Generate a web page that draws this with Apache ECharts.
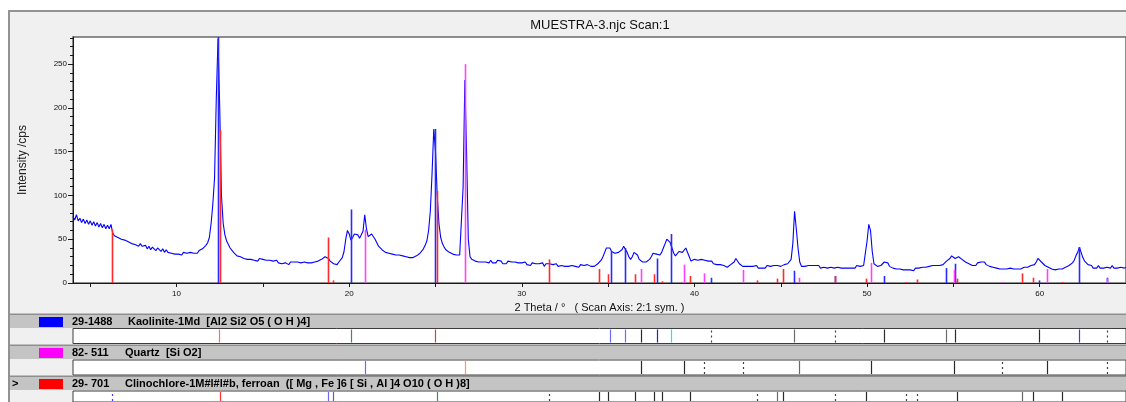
<!DOCTYPE html>
<html>
<head>
<meta charset="utf-8">
<script src="https://cdn.jsdelivr.net/npm/echarts@6/dist/echarts.min.js"></script>
<style>
html,body{margin:0;padding:0;background:#fff;}
#chart{width:1126px;height:402px;}
</style>
</head>
<body>
<div id="chart"></div>
<script>
// ---------- DATA ----------
const chartTitle = 'MUESTRA-3.njc Scan:1';
const xAxisTitle = '2 Theta / \u00b0   ( Scan Axis: 2:1 sym. )';
const yAxisTitle = 'Intensity /cps';

// measured intensity, 2-theta from 4.0 in 0.1 degree steps
const twoThetaStart = 4.0;
const twoThetaStep = 0.1;
const intensity = [
 76,72,78,71,74,69,73,68,72,67,
 71,66,70,65,69,64,68,63,67,62,
 66,62,67,57,54,56,52,54,50,52,
 49,51,47,49,45,47,44,46,42,45,
 42,40,43,39,42,38,41,40,37,40,
 38,36,39,35,38,35,36,34,36,33,
 35,33,34,32,35,33,34,32,35,33,
 34,36,34,37,36,39,40,43,46,52,
 68,90,120,210,279,200,100,68,55,48,
 44,40,38,35,35,31,32,30,31,28,
 30,27,29,27,28,26,28,25,28,26,
 27,25,26,24,26,24,25,23,26,23,
 25,22,24,23,24,21,24,22,24,22,
 24,22,23,21,24,22,23,21,23,22,
 24,22,25,24,27,26,30,31,28,25,
 25,22,24,21,24,25,29,36,50,60,
 56,49,52,56,58,55,51,50,59,78,
 62,53,54,56,55,50,46,42,40,38,
 38,35,37,34,36,33,35,32,34,32,
 34,31,33,30,32,29,31,29,31,31,
 32,34,36,39,43,48,60,82,125,176,
 150,100,68,52,45,41,38,36,35,34,
 33,32,32,31,32,34,110,232,150,50,
 30,27,28,25,26,24,26,24,26,24,
 25,23,26,23,25,23,26,24,25,22,
 24,22,25,23,24,22,24,22,23,21,
 23,21,24,21,23,20,23,21,22,20,
 22,20,23,19,22,20,22,20,21,19,
 22,19,21,20,21,19,21,19,21,20,
 21,19,21,18,21,19,20,18,21,19,
 19,20,19,21,22,24,26,30,35,40,
 42,40,36,34,34,34,35,35,38,42,
 40,35,30,27,30,35,37,32,27,25,
 24,24,24,25,27,30,34,36,33,31,
 32,35,40,45,50,49,46,40,34,31,
 33,36,36,35,37,40,38,30,25,25,
 27,25,26,24,27,25,26,24,25,23,
 25,22,24,21,23,21,22,20,21,18,
 20,21,21,24,28,26,22,20,19,18,
 19,17,19,17,19,17,20,17,19,17,
 19,17,20,18,19,17,20,18,20,19,
 19,20,21,20,22,24,27,45,82,62,
 40,24,19,21,19,18,20,18,20,18,
 20,18,20,17,19,18,20,17,19,18,
 19,17,19,18,19,17,19,17,19,17,
 19,17,19,17,20,18,19,18,20,22,
 48,67,60,36,22,20,19,19,20,21,
 24,22,23,19,20,17,19,16,18,16,
 18,15,17,15,17,15,16,14,17,15,
 17,15,18,16,18,17,19,17,20,19,
 20,21,20,22,21,23,25,26,28,31,
 29,28,30,30,29,27,26,24,23,22,
 23,20,22,20,23,22,24,23,24,21,
 22,19,21,18,19,17,18,16,18,16,
 18,16,18,17,18,16,18,16,18,16,
 18,18,19,18,19,20,20,21,24,28,
 26,24,22,20,19,18,17,16,16,15,
 15,16,15,16,17,18,19,20,21,23,
 26,31,35,41,35,29,25,23,21,20,
 20,17,19,17,20,17,19,17,19,18,
 19,17,20,17,19,17,19,18,19,17,
 18
];

// reference patterns (stick positions in 2-theta, heights in cps)
const kaoliniteCode = '29-1488';
const kaoliniteName = 'Kaolinite-1Md  [Al2 Si2 O5 ( O H )4]';
const kaolinitePos = [12.42,20.11,24.98,35.14,36.0,37.83,38.64,40.97,45.75,48.12,50.99,54.57,55.08,59.98,62.3,63.88];
const kaoliniteInt = [281,84,176,36,40,28,56,6,14,8,8,17,22,3,41,6];

const quartzCode = '82- 511';
const quartzName = 'Quartz  [Si O2]';
const quartzPos = [20.94,26.71,36.91,39.37,40.56,42.83,46.08,50.24,55.03,57.84,60.43,63.9];
const quartzInt = [61,250,16,21,11,15,6,23,15,1,16,5];

const chloriteCode = '29- 701';
const chloriteName = 'Clinochlore-1M#l#l#b, ferroan  ([ Mg , Fe ]6 [ Si , Al ]4 O10 ( O H )8]';
const chloritePos = [6.27,12.52,18.79,19.08,25.08,31.58,34.47,34.99,36.58,37.64,38.12,39.75,43.64,44.8,45.12,48.16,49.95,52.26,52.91,55.2,58.96,59.63,61.28];
const chloriteInt = [61,175,52,3,105,27,16,10,10,10,2,8,3,5,16,8,5,1,4,5,11,6,1];

// marker strips under the plot
const kaoliniteStripPos = [12.44,20.11,24.98,35.12,36.0,36.91,37.83,38.64,40.95,45.75,48.12,50.99,54.57,55.08,59.98,62.3,63.88];
const quartzStripPos = [20.94,26.71,36.91,39.37,40.56,42.83,46.08,50.24,55.03,57.84,60.43,63.9];
const chloriteStripPos = [6.27,12.52,18.79,19.08,25.08,31.58,34.47,34.99,36.58,37.64,38.12,39.75,43.64,44.8,45.12,48.16,49.95,52.26,52.91,55.2,58.96,59.63,61.28];

// tick values
const xLabelValues = [10,20,30,40,50,60];
const xTickValues = [5,10,15,20,25,30,35,40,45,50,55,60,65];
const yLabelValues = [0,50,100,150,200,250];
const yMinorValues = [10,20,30,40,60,70,80,90,110,120,130,140,160,170,180,190,210,220,230,240,260,270,280];

// ---------- STYLES ----------
const stripPalette = {
  red:['#ff3030',false], lred:['#ff6a6a',false], green:['#2aa02a',false], lblue:['#6a6aff',false],
  black:['#2a2a2a',false], gray:['#6a6a6a',false], dblue:['#2020c8',false], cyan:['#30dede',false],
  blue:['#3a3aff',false], orange:['#ff9a50',false], dash:['#404040',true], dashblue:['#3a3aff',true]
};
const kaoliniteStripStyle = ['lred','green','red','lblue','lblue','black','dblue','cyan','dash','gray','dash','black','gray','black','black','blue','dash'];
const quartzStripStyle = ['lblue','orange','black','black','dash','dash','gray','black','black','dash','black','dash'];
const chloriteStripStyle = ['dashblue','red','lblue','gray','green','dash','black','black','black','black','black','black','dash','gray','black','dash','black','dash','dash','black','gray','black','black'];

const X_MIN = 4, X_MAX = 65, Y_MAX = 281;
const PLOT_LEFT = 73, PLOT_W = 1057;

// ---------- BUILD ----------
const chart = echarts.init(document.getElementById('chart'), null, {renderer:'canvas'});
const patternData = intensity.map((v,i)=>[+(twoThetaStart + i*twoThetaStep).toFixed(2), v]);

function stickSeries(pos, ints, color){
  return {
    type:'custom', xAxisIndex:0, yAxisIndex:0, clip:true, z:5,
    data: pos.map((p,i)=>[p, ints[i]]),
    encode:{x:0,y:1},
    renderItem:function(params, api){
      const x = api.value(0), h = api.value(1);
      const p0 = api.coord([x,0]), p1 = api.coord([x,h]);
      const px = Math.round(p0[0]) + 0.5;
      return {type:'line', shape:{x1:px,y1:p0[1],x2:px,y2:p1[1]}, style:{stroke:color, lineWidth:1.6}};
    }
  };
}
function stripSeries(pos, styles, xi, yi){
  return {
    type:'custom', xAxisIndex:xi, yAxisIndex:yi, clip:true, z:5,
    data: pos.map(p=>[p,1]),
    encode:{x:0,y:1},
    renderItem:function(params, api){
      const x = api.value(0);
      const p0 = api.coord([x,0]), p1 = api.coord([x,1]);
      const px = Math.round(p0[0]) + 0.5;
      const st = stripPalette[styles[params.dataIndex]];
      return {type:'line', shape:{x1:px,y1:p0[1]-1,x2:px,y2:p1[1]+1},
        style:{stroke:st[0], lineWidth:1.2, lineDash: st[1] ? [2,3] : null}};
    }
  };
}
function stripX(gi){
  return {gridIndex:gi, type:'value', min:X_MIN, max:X_MAX, show:false, splitLine:{show:false}};
}
function stripY(gi){
  return {gridIndex:gi, type:'value', min:0, max:1, show:false, splitLine:{show:false}};
}

const FONT = "'Liberation Sans', Arial, sans-serif";
function header(y, swatch, code, name, nameX, arrow){
  const els = [
    {type:'rect', z:-5, shape:{x:10,y:y,width:1116,height:1.5}, style:{fill:'#8e8e8e'}},
    {type:'rect', z:-5, shape:{x:10,y:y+1.5,width:1116,height:13}, style:{fill:'#c4c4c4'}},
    {type:'rect', z:-4, shape:{x:39,y:y+3.5,width:24,height:10}, style:{fill:swatch}},
    {type:'text', z:-4, x:72, y:y+8.5, style:{text:code, font:"bold 11px "+FONT, fill:'#000', textVerticalAlign:'middle'}},
    {type:'text', z:-4, x:nameX, y:y+8.5, style:{text:name, font:"bold 11px "+FONT, fill:'#000', textVerticalAlign:'middle'}}
  ];
  if(arrow){
    els.push({type:'text', z:-4, x:12, y:y+8.5, style:{text:'>', font:"bold 11px "+FONT, fill:'#000', textVerticalAlign:'middle'}});
  }
  return els;
}

const option = {
  animation:false,
  backgroundColor:'#ffffff',
  graphic:{elements:[
    {type:'rect', z:-10, shape:{x:9,y:11,width:1130,height:400}, style:{fill:'#f0f0f0', stroke:'#929292', lineWidth:2}},
    {type:'text', z:-4, x:600, y:25, style:{text:chartTitle, font:"13px "+FONT, fill:'#111', textAlign:'center', textVerticalAlign:'middle'}},
    ...header(313.5, '#0000ff', kaoliniteCode, kaoliniteName, 128, false),
    ...header(344.5, '#ff00ff', quartzCode, quartzName, 125, false),
    ...header(375.5, '#ff0000', chloriteCode, chloriteName, 125, true)
  ]},
  grid:[
    {left:PLOT_LEFT, top:37, width:PLOT_W, height:246, show:true, backgroundColor:'#ffffff', borderColor:'#6a6a6a', borderWidth:1.5},
    {left:PLOT_LEFT, top:328.5, width:PLOT_W, height:15, show:true, backgroundColor:'#ffffff', borderColor:'#3c3c3c', borderWidth:1},
    {left:PLOT_LEFT, top:360, width:PLOT_W, height:15, show:true, backgroundColor:'#ffffff', borderColor:'#3c3c3c', borderWidth:1},
    {left:PLOT_LEFT, top:391, width:PLOT_W, height:15, show:true, backgroundColor:'#ffffff', borderColor:'#3c3c3c', borderWidth:1}
  ],
  xAxis:[
    {gridIndex:0, type:'value', min:X_MIN, max:X_MAX,
     axisLine:{show:true, onZero:false, lineStyle:{color:'#1a1a1a', width:1}},
     axisTick:{show:true, customValues:xTickValues, length:4, lineStyle:{color:'#1a1a1a'}},
     axisLabel:{customValues:xLabelValues, fontSize:8, fontFamily:'Liberation Sans', color:'#111', margin:7},
     splitLine:{show:false},
     name:xAxisTitle, nameLocation:'middle', nameGap:17,
     nameTextStyle:{fontSize:11, fontFamily:'Liberation Sans', color:'#111', verticalAlign:'top'}},
    stripX(1), stripX(2), stripX(3)
  ],
  yAxis:[
    {gridIndex:0, type:'value', min:0, max:Y_MAX,
     axisLine:{show:true, onZero:false, lineStyle:{color:'#1a1a1a', width:1}},
     axisTick:{show:true, customValues:yLabelValues, length:5, lineStyle:{color:'#1a1a1a'}},
     axisLabel:{customValues:yLabelValues, fontSize:8, fontFamily:'Liberation Sans', color:'#111', margin:6},
     splitLine:{show:false},
     name:yAxisTitle, nameLocation:'middle', nameGap:44,
     nameTextStyle:{fontSize:12, fontFamily:'Liberation Sans', color:'#222'}},
    {gridIndex:0, type:'value', min:0, max:Y_MAX, position:'left',
     axisLine:{show:false},
     axisTick:{show:true, customValues:yMinorValues, length:3, lineStyle:{color:'#1a1a1a'}},
     axisLabel:{show:false}, splitLine:{show:false}},
    stripY(1), stripY(2), stripY(3)
  ],
  series:[
    {type:'line', xAxisIndex:0, yAxisIndex:0, data:patternData, showSymbol:false, symbol:'none',
     clip:true, z:3, lineStyle:{color:'#0000ff', width:1.1}},
    stickSeries(kaolinitePos, kaoliniteInt, '#2a2aff'),
    stickSeries(quartzPos, quartzInt, '#ff40ff'),
    stickSeries(chloritePos, chloriteInt, '#ff2a2a'),
    stripSeries(kaoliniteStripPos, kaoliniteStripStyle, 1, 2),
    stripSeries(quartzStripPos, quartzStripStyle, 2, 3),
    stripSeries(chloriteStripPos, chloriteStripStyle, 3, 4)
  ]
};
chart.setOption(option);
</script>
</body>
</html>
